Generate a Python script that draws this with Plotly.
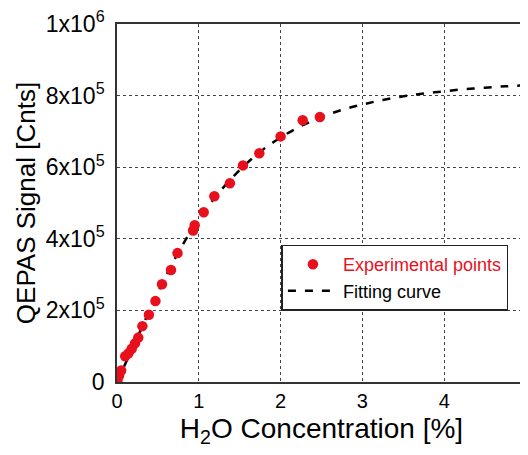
import plotly.graph_objects as go

# Experimental points (H2O concentration %, QEPAS signal counts)
exp_x = [0.005, 0.025, 0.05, 0.10, 0.14, 0.18, 0.22, 0.26, 0.31, 0.39, 0.47, 0.55,
         0.66, 0.74, 0.93, 0.95, 1.06, 1.19, 1.38, 1.54, 1.74, 2.00, 2.27, 2.48]
exp_y = [4e3, 18e3, 32e3, 72e3, 80e3, 93e3, 108e3, 124e3, 156e3, 188e3, 226e3, 273e3,
         313e3, 360e3, 423e3, 438e3, 474e3, 519e3, 555e3, 605e3, 639e3, 686e3, 731e3, 740e3]

# Fitting curve
fit_x = [0, 0.25, 0.5, 0.75, 1.0, 1.25, 1.5, 1.75, 2.0, 2.25, 2.5, 2.75, 3.0, 3.25,
         3.5, 3.75, 4.0, 4.25, 4.5, 4.75, 5.0]
fit_y = [0, 125e3, 250e3, 362e3, 455e3, 530e3, 592e3, 643e3, 683e3, 715e3, 740e3,
         760e3, 775e3, 788e3, 798e3, 806e3, 812e3, 818e3, 822e3, 826e3, 829e3]

x_ticks = [0, 1, 2, 3, 4, 5]
y_tickvals = [0, 2e5, 4e5, 6e5, 8e5, 1e6]
y_ticktext = ["0", "2x10<sup>5</sup>", "4x10<sup>5</sup>", "6x10<sup>5</sup>",
              "8x10<sup>5</sup>", "1x10<sup>6</sup>"]

FONT = "Arial, Liberation Sans, sans-serif"
RED = "#e8101c"

fig = go.Figure()
fig.add_trace(go.Scatter(
    x=fit_x, y=fit_y, mode="lines", name="Fitting curve", legendrank=2,
    line=dict(color="black", width=2.5, dash="8px,9px", shape="spline"),
))
fig.add_trace(go.Scatter(
    x=exp_x, y=exp_y, mode="markers",
    name=f"<span style='color:{RED}'>Experimental points</span>", legendrank=1,
    marker=dict(color=RED, size=10.5, line=dict(width=0)),
))

axis_common = dict(
    showline=True, linecolor="#333", linewidth=1.6, mirror=True,
    showgrid=True, gridcolor="#444", gridwidth=1, griddash="dot",
    zeroline=False, ticks="", automargin=False, ticklabeloverflow="allow",
)

# The page body adds an 8px margin, so the figure is 8px smaller than the window.
fig.update_layout(
    width=520, height=447,
    margin=dict(l=109, r=2, t=16, b=73),
    paper_bgcolor="white", plot_bgcolor="white",
    font=dict(family=FONT, color="black"),
    xaxis=dict(range=[0, 5], tickvals=x_ticks, **axis_common,
               tickfont=dict(family=FONT, size=20, color="black"),
               title=dict(text="H<sub>2</sub>O Concentration [%]",
                          font=dict(family=FONT, size=28), standoff=8)),
    yaxis=dict(range=[0, 1e6], tickvals=y_tickvals, ticktext=y_ticktext, **axis_common,
               tickfont=dict(family=FONT, size=23, color="black"),
               ticklabelstandoff=6,
               title=dict(text="QEPAS Signal [Cnts]",
                          font=dict(family=FONT, size=26), standoff=3)),
    legend=dict(x=0.402, y=0.384, xanchor="left", yanchor="top",
                bgcolor="white", bordercolor="#222", borderwidth=1.5,
                font=dict(family=FONT, size=18, color="black"),
                tracegroupgap=0, itemwidth=50),
    showlegend=True,
)

fig.write_html("out.html")
